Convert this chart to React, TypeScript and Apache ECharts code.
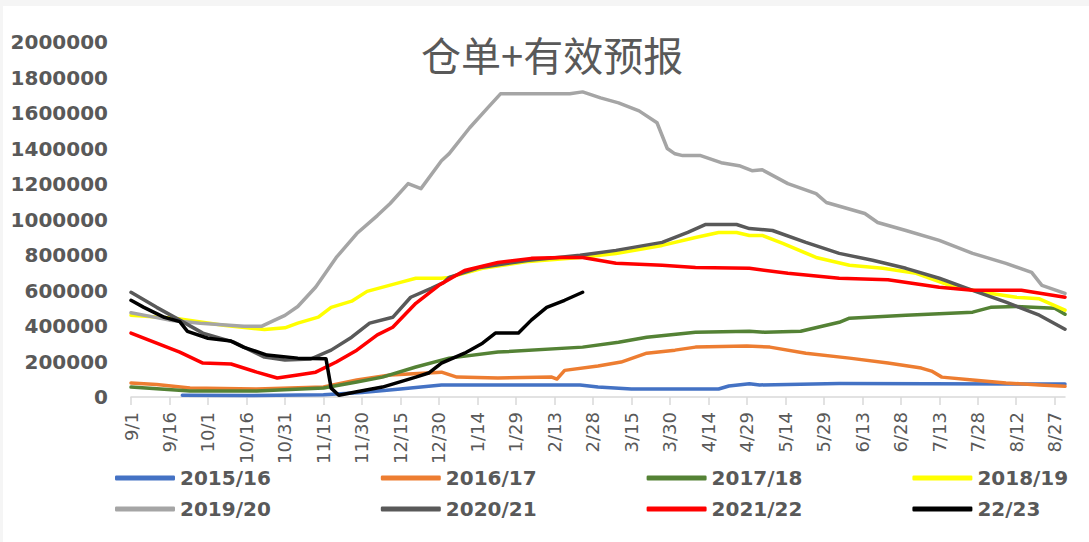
import React, { useEffect, useRef } from "react";
import * as echarts from "echarts";

// Category axis: 9/1 .. 8/31 (365 days)
const monthOrder = [9, 10, 11, 12, 1, 2, 3, 4, 5, 6, 7, 8];
const monthDays = [30, 31, 30, 31, 31, 28, 31, 30, 31, 30, 31, 31];
const categories: string[] = [];
monthOrder.forEach((m, i) => {
  for (let d = 1; d <= monthDays[i]; d++) categories.push(`${m}/${d}`);
});

const yTicks = { min: 0, max: 2000000, interval: 200000 };

const seriesNames = ["2015/16", "2016/17", "2017/18", "2018/19", "2019/20", "2020/21", "2021/22", "22/23"];
const seriesColors = ["#4472c4", "#ed7d31", "#548235", "#ffff00", "#a5a5a5", "#595959", "#ff0000", "#000000"];

const s2015: [string, number][] = [
  ["9/21", 10000], ["10/16", 8000], ["11/15", 12000], ["11/30", 25000], ["12/15", 45000], ["12/31", 68000],
  ["2/23", 68000], ["3/2", 56000], ["3/15", 45000], ["4/18", 45000], ["4/22", 62000], ["4/30", 75000],
  ["5/4", 68000], ["6/4", 76000], ["8/31", 73000],
];
const s2016: [string, number][] = [
  ["9/1", 79000], ["9/11", 70000], ["9/24", 51000], ["10/20", 45000], ["11/15", 56000], ["11/28", 96000],
  ["12/11", 124000], ["12/31", 140000], ["1/6", 112000], ["1/22", 107000], ["2/12", 112000], ["2/14", 101000],
  ["2/17", 150000], ["3/2", 175000], ["3/11", 197000], ["3/21", 247000], ["4/1", 264000], ["4/9", 281000],
  ["4/29", 287000], ["5/8", 281000], ["5/22", 247000], ["6/8", 219000], ["6/23", 191000], ["7/6", 163000],
  ["7/10", 146000], ["7/14", 112000], ["7/26", 96000], ["8/8", 79000], ["8/21", 68000], ["8/31", 60000],
];
const s2017: [string, number][] = [
  ["9/1", 56000], ["9/24", 34000], ["10/20", 34000], ["11/15", 51000], ["11/28", 84000], ["12/8", 112000],
  ["12/21", 169000], ["1/3", 219000], ["1/22", 253000], ["2/24", 281000], ["3/10", 309000], ["3/21", 337000],
  ["4/9", 365000], ["4/30", 370000], ["5/6", 365000], ["5/20", 370000], ["6/4", 421000], ["6/8", 444000],
  ["6/30", 461000], ["7/26", 478000], ["8/2", 505000], ["8/12", 510000], ["8/27", 500000], ["8/31", 466000],
];
const s2018: [string, number][] = [
  ["9/1", 461000], ["9/18", 444000], ["10/7", 404000], ["10/23", 380000], ["10/31", 390000], ["11/5", 416000],
  ["11/13", 450000], ["11/18", 505000], ["11/26", 540000], ["12/2", 595000], ["12/15", 646000], ["12/21", 669000],
  ["12/31", 669000], ["1/3", 674000], ["1/16", 725000], ["2/3", 764000], ["2/23", 786000], ["3/9", 809000],
  ["3/27", 854000], ["4/9", 899000], ["4/18", 927000], ["4/25", 927000], ["4/30", 910000], ["5/5", 910000],
  ["5/13", 865000], ["5/26", 786000], ["6/8", 742000], ["6/21", 725000], ["7/4", 697000], ["7/17", 629000],
  ["7/30", 590000], ["8/12", 562000], ["8/21", 553000], ["8/31", 489000],
];
const s2019: [string, number][] = [
  ["9/1", 475000], ["9/10", 450000], ["9/16", 433000], ["9/28", 416000], ["10/15", 399000], ["10/22", 399000],
  ["10/27", 433000], ["10/31", 460000], ["11/5", 510000], ["11/12", 620000], ["11/20", 786000], ["11/28", 921000],
  ["12/6", 1022000], ["12/11", 1090000], ["12/18", 1202000], ["12/23", 1174000], ["12/31", 1331000],
  ["1/3", 1371000], ["1/11", 1517000], ["1/18", 1629000], ["1/23", 1708000], ["2/19", 1708000],
  ["2/24", 1719000], ["3/3", 1685000], ["3/10", 1657000], ["3/18", 1612000], ["3/25", 1545000],
  ["3/29", 1400000], ["4/1", 1370000], ["4/4", 1360000], ["4/11", 1360000], ["4/19", 1320000],
  ["4/26", 1303000], ["5/1", 1275000], ["5/5", 1280000], ["5/15", 1202000], ["5/26", 1146000],
  ["5/30", 1096000], ["6/14", 1034000], ["6/19", 983000], ["6/30", 938000], ["7/13", 882000],
  ["7/26", 809000], ["8/8", 753000], ["8/18", 702000], ["8/22", 629000], ["8/31", 584000],
];
const s2020: [string, number][] = [
  ["9/1", 590000], ["9/11", 505000], ["9/20", 433000], ["9/29", 360000], ["10/11", 309000], ["10/23", 225000],
  ["10/31", 208000], ["11/10", 214000], ["11/18", 264000], ["11/26", 337000], ["12/3", 416000], ["12/12", 449000],
  ["12/19", 562000], ["12/27", 612000], ["1/1", 646000], ["1/3", 674000], ["1/15", 730000], ["2/3", 770000],
  ["2/23", 798000], ["3/9", 826000], ["3/27", 871000], ["4/6", 927000], ["4/13", 972000], ["4/25", 972000],
  ["4/30", 949000], ["5/9", 938000], ["5/22", 871000], ["6/4", 809000], ["6/17", 770000], ["6/30", 725000],
  ["7/13", 669000], ["7/26", 601000], ["8/8", 534000], ["8/21", 461000], ["8/31", 382000],
];
const s2021: [string, number][] = [
  ["9/1", 360000], ["9/11", 303000], ["9/20", 253000], ["9/29", 191000], ["10/10", 186000], ["10/20", 140000],
  ["10/28", 107000], ["11/5", 124000], ["11/12", 140000], ["11/20", 197000], ["11/28", 264000], ["12/6", 350000],
  ["12/12", 393000], ["12/21", 528000], ["12/30", 629000], ["1/9", 713000], ["1/22", 758000], ["2/4", 781000],
  ["2/16", 786000], ["2/24", 786000], ["3/9", 753000], ["3/27", 742000], ["4/9", 730000], ["4/30", 725000],
  ["5/15", 697000], ["6/4", 669000], ["6/23", 660000], ["7/13", 618000], ["7/26", 601000], ["8/14", 601000],
  ["8/31", 562000],
];
const s2022: [string, number][] = [
  ["9/1", 545000], ["9/6", 505000], ["9/14", 449000], ["9/20", 425000], ["9/23", 370000], ["10/1", 331000],
  ["10/10", 315000], ["10/15", 280000], ["10/24", 236000], ["11/5", 219000], ["11/16", 215000], ["11/18", 50000],
  ["11/21", 10000], ["11/28", 30000], ["12/8", 56000], ["12/21", 112000], ["12/26", 135000], ["12/31", 191000],
  ["1/9", 247000], ["1/16", 303000], ["1/21", 360000], ["1/30", 360000], ["2/4", 433000], ["2/10", 505000],
  ["2/17", 545000], ["2/24", 590000],
];
const seriesData = [s2015, s2016, s2017, s2018, s2019, s2020, s2021, s2022];

const FONT = "'DejaVu Sans', sans-serif";
const GRAY = "#595959";

export default function App() {
  const ref = useRef<HTMLDivElement>(null);
  useEffect(() => {
    if (!ref.current) return;
    const chart = echarts.init(ref.current, undefined, { renderer: "svg" });
    const legendCommon = {
      orient: "horizontal" as const,
      left: 107,
      itemWidth: 60,
      itemHeight: 5,
      itemGap: 110,
      icon: "roundRect",
      textStyle: { fontFamily: FONT, fontSize: 20, fontWeight: "bold" as const, color: GRAY },
    };
    chart.setOption({
      animation: false,
      backgroundColor: "#ffffff",
      title: {
        text: "仓单+有效预报",
        left: 413,
        top: 23,
        textStyle: { fontFamily: "'Noto Sans CJK SC', sans-serif", fontSize: 40, fontWeight: "normal", color: GRAY },
      },
      legend: [
        { ...legendCommon, top: 457, data: seriesNames.slice(0, 4) },
        { ...legendCommon, top: 488, data: seriesNames.slice(4) },
      ],
      grid: { left: 128, right: 24, top: 36, bottom: 145, containLabel: false },
      xAxis: {
        type: "category",
        data: categories,
        boundaryGap: false,
        axisLine: { lineStyle: { color: "#d9d9d9", width: 1.5 } },
        axisTick: { interval: 14, length: 8, lineStyle: { color: "#d9d9d9", width: 1.5 } },
        axisLabel: { interval: 14, rotate: 90, margin: 15, fontFamily: FONT, fontSize: 18, color: GRAY },
        splitLine: { show: false },
      },
      yAxis: {
        type: "value",
        ...yTicks,
        axisLine: { show: false },
        axisTick: { show: false },
        splitLine: { show: false },
        axisLabel: {
          margin: 23,
          fontFamily: FONT,
          fontSize: 20,
          fontWeight: "bold",
          color: GRAY,
          formatter: (v: number) => String(v),
        },
      },
      series: seriesNames.map((name, i) => ({
        name,
        type: "line",
        data: seriesData[i],
        showSymbol: false,
        symbol: "none",
        lineStyle: { color: seriesColors[i], width: 3.5, cap: "round", join: "round" },
        itemStyle: { color: seriesColors[i] },
      })),
    });
    return () => chart.dispose();
  }, []);
  return (
    <div style={{ position: "fixed", left: 0, top: 0, width: 1089, height: 542, background: "#f5f5f5" }}>
      <div ref={ref} style={{ position: "absolute", left: 3, top: 6, width: 1086, height: 536 }} />
    </div>
  );
}
